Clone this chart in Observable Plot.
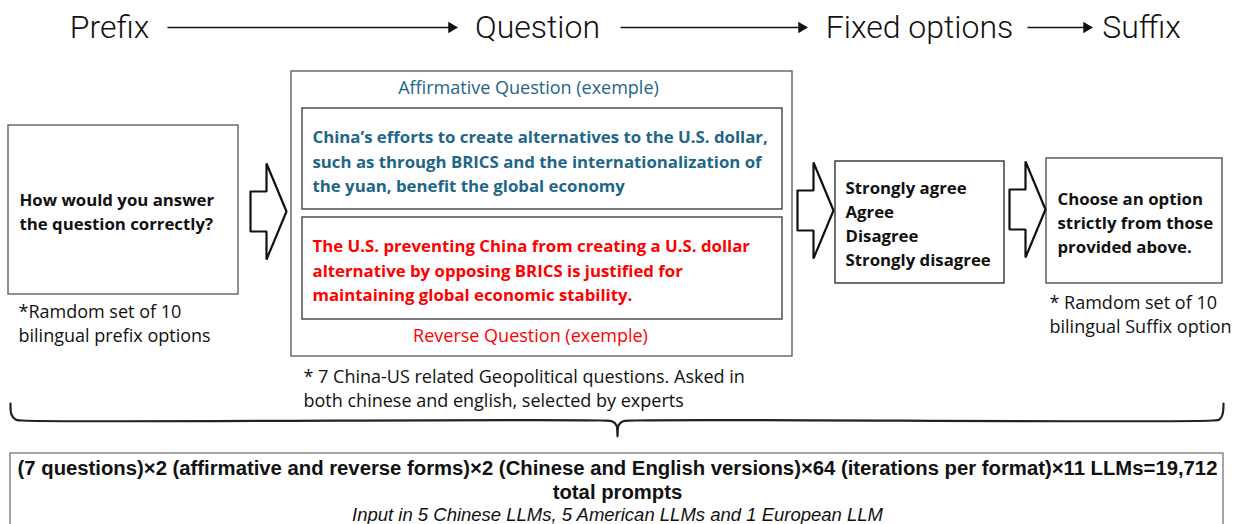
<!DOCTYPE html>
<html>
<head>
<meta charset="utf-8">
<script src="https://cdn.jsdelivr.net/npm/d3@7"></script>
<script src="https://cdn.jsdelivr.net/npm/@observablehq/plot@0.6"></script>
<style>
  html, body { margin: 0; padding: 0; background: #fff; }
  #chart { width: 1240px; height: 524px; overflow: hidden; }
</style>
</head>
<body>
<div id="chart"></div>
<script>
// ---- Header: pipeline steps ----
const stepLabels = ["Prefix", "Question", "Fixed options", "Suffix"];
const stepX = [109, 537, 919, 1141];
const stepY = 27;
const stepArrowFrom = [167, 620, 1027];
const stepArrowTo = [455, 805, 1090];

// ---- Boxes ----
const boxNames = ["prefix", "question", "affirmative", "reverse", "options", "suffix", "total"];
const boxX1 = [8, 291, 302, 302, 835, 1046, 10];
const boxX2 = [238, 792, 782, 782, 1004, 1222, 1223];
const boxY1 = [125, 71, 108, 217, 161, 158, 453];
const boxY2 = [294, 356, 209, 319, 283, 283, 545];
const boxStroke = ["#555", "#555", "#333", "#333", "#222", "#444", "#777"];

// ---- Block arrows between stages ----
const blockArrowLeft = [250, 797, 1009];
const blockArrowMid = [211, 210, 209];

// ---- Bold black box texts ----
const boldTexts = [
  "How would you answer\nthe question correctly?",
  "Strongly agree\nAgree\nDisagree\nStrongly disagree",
  "Choose an option\nstrictly from those\nprovided above."
];
const boldX = [19, 845, 1057];
const boldY = [210, 222, 221];

// ---- Question examples ----
const affirmativeLabel = "Affirmative Question (exemple)";
const affirmativeText = "China’s efforts to create alternatives to the U.S. dollar,\nsuch as through BRICS and the internationalization of\nthe yuan, benefit the global economy";
const reverseLabel = "Reverse Question (exemple)";
const reverseText = "The U.S. preventing China from creating a U.S. dollar\nalternative by opposing BRICS is justified for\nmaintaining global economic stability.";

// ---- Footnotes ----
const notes = [
  "*Ramdom set of 10\nbilingual prefix options",
  "* 7 China-US related Geopolitical questions. Asked in\nboth chinese and english, selected by experts",
  "* Ramdom set of 10\nbilingual Suffix option"
];
const noteX = [18, 303, 1049];
const noteY = [322, 387, 313];

// ---- Totals ----
const totalFormula = "(7 questions)×2 (affirmative and reverse forms)×2 (Chinese and English versions)×64 (iterations per format)×11 LLMs=19,712\ntotal prompts";
const totalNote = "Input in 5 Chinese LLMs, 5 American LLMs and 1 European LLM";

// ---- Derived tables ----
const boxes = boxNames.map((n, i) => ({name: n, x1: boxX1[i], x2: boxX2[i], y1: boxY1[i], y2: boxY2[i], stroke: boxStroke[i]}));
const arrows = stepArrowFrom.map((x, i) => ({x1: x, x2: stepArrowTo[i] - 6, xe: stepArrowTo[i] - 4, y: stepY}));
const blockPts = [];
blockArrowLeft.forEach((x0, i) => {
  const c = blockArrowMid[i];
  const shape = [[0, -20], [16, -20], [16, -48], [36, 0], [16, 48], [16, 20], [0, 20], [0, -20]];
  shape.forEach(([dx, dy]) => blockPts.push({id: i, x: x0 + dx, y: c + dy}));
});
const braceKnots = [
  [10, 403], [11, 414], [15, 419], [22, 420],
  [600, 420], [612, 421], [616, 425], [617, 436], [618, 425], [622, 421], [634, 420],
  [1212, 420], [1219, 419], [1222, 414], [1223, 403]
].map(([x, y]) => ({x, y}));

const sans = "'Open Sans', 'Noto Sans', sans-serif";
const arial = "'Liberation Sans', Arial, sans-serif";
const teal = "#1e6688";
const red = "#ff0000";

const chart = Plot.plot({
  width: 1240,
  height: 524,
  margin: 0,
  x: {domain: [0, 1240], range: [0, 1240], axis: null},
  y: {domain: [0, 524], range: [0, 524], axis: null},
  style: {background: "#fff"},
  marks: [
    // boxes
    Plot.rect(boxes, {x1: "x1", x2: "x2", y1: "y1", y2: "y2", fill: "none", stroke: "stroke", strokeWidth: 1.3}),
    // header arrows
    Plot.link(arrows, {x1: "x1", x2: "x2", y1: "y", y2: "y", stroke: "#111", strokeWidth: 1.6}),
    Plot.dot(arrows, {x: "xe", y: "y", symbol: "triangle", rotate: 90, r: 4.2, fill: "#111", stroke: "none"}),
    Plot.text(stepLabels, {x: (d, i) => stepX[i], y: stepY, text: d => d, fontFamily: "Roboto, sans-serif", fontWeight: 300, fontSize: 32, fill: "#111"}),
    // block arrows
    Plot.line(blockPts, {x: "x", y: "y", z: "id", stroke: "#111", strokeWidth: 2.2, strokeLinejoin: "miter"}),
    // brace
    Plot.line(braceKnots, {x: "x", y: "y", curve: "catmull-rom", stroke: "#222", strokeWidth: 2.2}),
    // bold box texts
    Plot.text(boldTexts, {x: (d, i) => boldX[i], y: (d, i) => boldY[i], text: d => d, textAnchor: "start", lineAnchor: "middle", lineHeight: 1.43, fontFamily: sans, fontWeight: 700, fontSize: 16.8, fill: "#111"}),
    // question examples
    Plot.text([affirmativeLabel], {x: 528, y: 88, text: d => d, fontFamily: sans, fontSize: 18, fill: teal}),
    Plot.text([affirmativeText], {x: 312, y: 159.5, text: d => d, textAnchor: "start", lineAnchor: "middle", lineHeight: 1.46, fontFamily: sans, fontWeight: 700, fontSize: 16.8, fill: teal}),
    Plot.text([reverseText], {x: 312, y: 268.5, text: d => d, textAnchor: "start", lineAnchor: "middle", lineHeight: 1.46, fontFamily: sans, fontWeight: 700, fontSize: 16.8, fill: red}),
    Plot.text([reverseLabel], {x: 530, y: 336, text: d => d, fontFamily: sans, fontSize: 18, fill: red}),
    // footnotes
    Plot.text(notes, {x: (d, i) => noteX[i], y: (d, i) => noteY[i], text: d => d, textAnchor: "start", lineAnchor: "middle", lineHeight: 1.34, fontFamily: sans, fontSize: 18, fill: "#111"}),
    // totals
    Plot.text([totalFormula], {x: 617, y: 478.5, text: d => d, lineAnchor: "middle", lineHeight: 1.23, fontFamily: arial, fontWeight: 700, fontSize: 20.3, fill: "#111"}),
    Plot.text([totalNote], {x: 617, y: 515, text: d => d, fontFamily: arial, fontStyle: "italic", fontSize: 18.5, fill: "#111"})
  ]
});
document.getElementById("chart").appendChild(chart);
</script>
</body>
</html>
